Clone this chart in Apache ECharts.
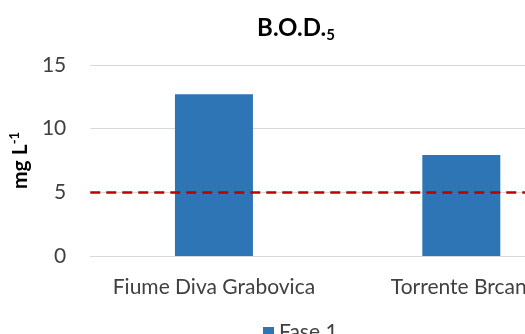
<!DOCTYPE html>
<html><head><meta charset="utf-8">
<script src="https://cdn.jsdelivr.net/npm/echarts@6/dist/echarts.min.js"></script>
<style>html,body{margin:0;padding:0;overflow:hidden;background:#fff;width:525px;height:334px}#c{width:600px;height:348px}</style>
</head><body><div id="c"></div>
<script>
const categories = ["Fiume Diva Grabovica", "Torrente Brcanj"];
const fase1 = [12.7, 7.93];
const limitValue = 5;
const yTicks = {min: 0, max: 15, interval: 5};
const FONT = 'Lato';
const chart = echarts.init(document.getElementById('c'), null, {renderer: 'canvas'});
chart.setOption({
  animation: false,
  title: {
    text: '{b|B.O.D.}{s|5}', left: 291, textAlign: 'center', top: 8,
    textStyle: {rich: {
      b: {fontFamily: FONT, fontWeight: 'bold', fontSize: 24, color: '#000', lineHeight: 30},
      s: {fontFamily: FONT, fontWeight: 'bold', fontSize: 15, color: '#000', verticalAlign: 'bottom', lineHeight: 18, padding: [10,0,0,0]}
    }}
  },
  legend: {
    bottom: 0, left: 258, itemWidth: 11, itemHeight: 11, icon: 'rect',
    textStyle: {fontFamily: FONT, fontSize: 21, color: '#404040'},
    data: ['Fase 1']
  },
  grid: {left: 87, right: 15, top: 65, height: 191},
  xAxis: {
    type: 'category', data: categories,
    axisLine: {lineStyle: {color: '#d9d9d9', width: 1}},
    axisTick: {show: false},
    axisLabel: {fontFamily: FONT, fontSize: 21, color: '#404040', margin: 21, interval: 0}
  },
  yAxis: {
    type: 'value', min: yTicks.min, max: yTicks.max, interval: yTicks.interval,
    name: '{a|mg L}{p|-1}', nameLocation: 'middle', nameGap: 48, nameRotate: 90,
    nameTextStyle: {rich: {
      a: {fontFamily: FONT, fontWeight: 'bold', fontSize: 21, color: '#000'},
      p: {fontFamily: FONT, fontWeight: 'bold', fontSize: 13, color: '#000', verticalAlign: 'top', padding: [0,0,12,0]}
    }},
    axisLine: {show: false}, axisTick: {show: false},
    axisLabel: {fontFamily: FONT, fontSize: 21, color: '#404040', margin: 24},
    splitLine: {lineStyle: {color: '#d9d9d9', width: 1}}
  },
  series: [{
    name: 'Fase 1', type: 'bar', data: fase1, barWidth: 78,
    itemStyle: {color: '#2e75b6'},
    markLine: {
      silent: true, symbol: ['none', 'none'], label: {show: false},
      lineStyle: {color: '#c00000', type: [10, 6], width: 2.5},
      data: [{yAxis: limitValue}]
    }
  }]
});
</script></body></html>
